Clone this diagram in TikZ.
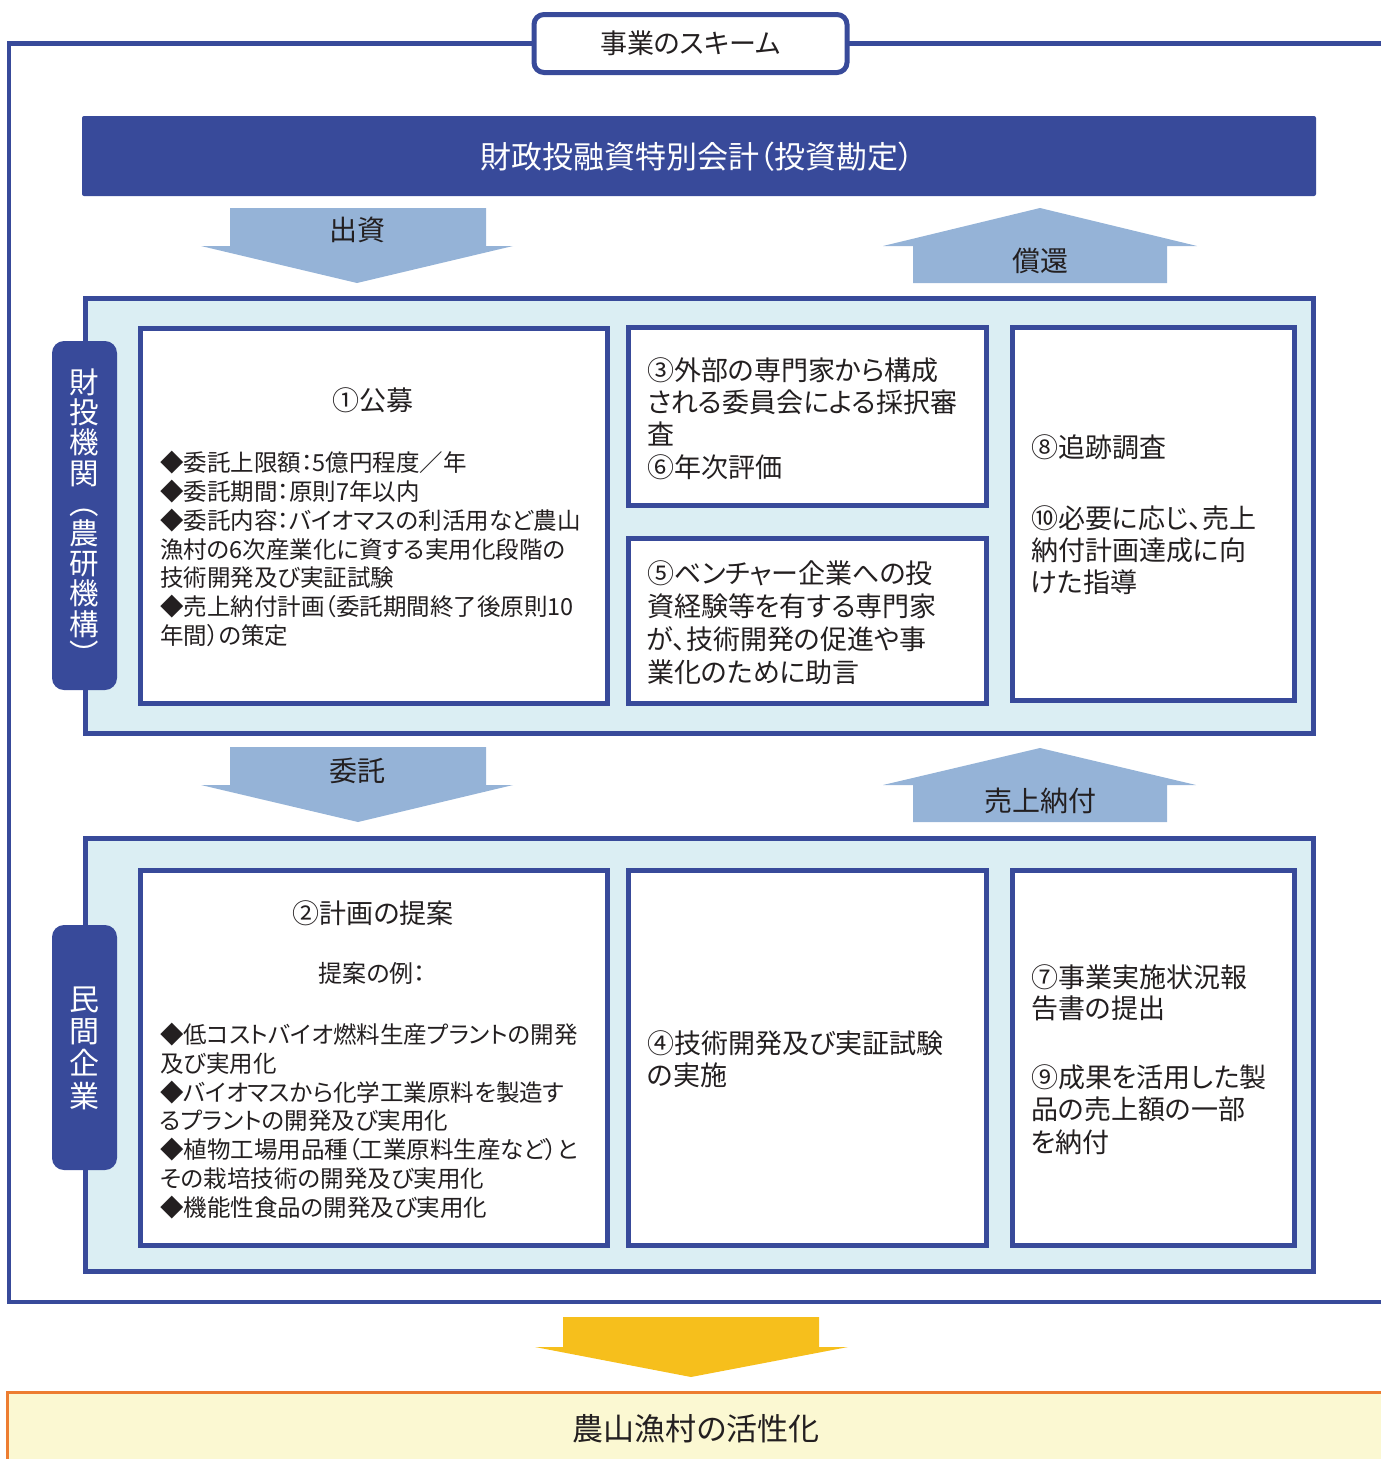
\documentclass[tikz,border=0pt]{standalone}
\usepackage{fontspec}
\newfontfamily\jp[RawFeature=+palt]{Noto Sans CJK JP}
\definecolor{navy}{RGB}{56,74,154}
\definecolor{arrowblue}{RGB}{149,179,215}
\definecolor{panelfill}{RGB}{219,238,243}
\definecolor{gold}{RGB}{246,191,28}
\definecolor{cream}{RGB}{251,248,210}
\definecolor{orangeline}{RGB}{237,125,49}
\definecolor{ink}{RGB}{35,31,32}
\tikzset{
  frameline/.style={draw=navy, line width=4.5pt},
  panel/.style={draw=navy, fill=panelfill, line width=5pt},
  whitebox/.style={draw=navy, fill=white, line width=5pt},
  titlebox/.style={draw=navy, fill=white, line width=5pt, rounded corners=10pt},
  sidetag/.style={fill=navy, rounded corners=12pt},
  blockarrow/.style={fill=arrowblue},
  txt/.style={inner sep=0pt, outer sep=0pt, text=ink},
  lefttxt/.style={txt, anchor=west, align=left},
  arrowlabel/.style={txt, font=\jp\fontsize{28}{30}\selectfont},
  sidelabel/.style={inner sep=0pt, text=white, align=center},
}
\begin{document}
\begin{tikzpicture}[x=1pt,y=-1pt]
\useasboundingbox (0,0) rectangle (1381,1459);

% outer frame
\draw[frameline] (534,43.5) -- (9,43.5) -- (9,1302) -- (1395,1302);
\draw[frameline] (847,43.5) -- (1395,43.5);

% title
\draw[titlebox] (534,14.5) rectangle (847,72.5);
\node[txt, font=\jp\fontsize{27}{30}\selectfont] (scheme) at (690.5,43.5) {事業のスキーム};

% top bar
\fill[navy, rounded corners=2pt] (82,116) rectangle (1316,196);
\node[inner sep=0pt, text=white, font=\jp\fontsize{31}{34}\selectfont] (fund) at (697,157) {財政投融資特別会計（投資勘定）};

% arrows between bar and panel 1
\fill[blockarrow] (230,208) -- (486,208) -- (486,246) -- (513,246) -- (357,283) -- (201,246) -- (230,246) -- cycle;
\node[arrowlabel] (shusshi) at (357,230) {出資};
\fill[blockarrow] (1040,208) -- (1197,246) -- (1167,246) -- (1167,283) -- (913,283) -- (913,246) -- (883,246) -- cycle;
\node[arrowlabel] (shokan) at (1040,261) {償還};

% panel 1
\draw[panel] (85,298) rectangle (1313,733);
\fill[sidetag] (52,341) rectangle (117,690);
\node[sidelabel, font=\jp\fontsize{29.5}{30.2}\selectfont] (naro) at (84.5,517) {財\\投\\機\\関\\︵\\農\\研\\機\\構\\︶};

\draw[whitebox] (140,328) rectangle (607,703);
\draw[whitebox] (628,327) rectangle (986,505.5);
\draw[whitebox] (628,538.5) rectangle (986,703);
\draw[whitebox] (1012,327) rectangle (1294,700.5);

\node[txt, font=\jp\fontsize{27}{30}\selectfont] (koubo) at (373,400) {①公募};
\node[lefttxt, font=\jp\fontsize{23.5}{28.7}\selectfont] (koubotxt) at (160,549) {◆委託上限額：5億円程度／年\\◆委託期間：原則7年以内\\◆委託内容：バイオマスの利活用など農山\\漁村の6次産業化に資する実用化段階の\\技術開発及び実証試験\\◆売上納付計画（委託期間終了後原則10\\年間）の策定};

\node[lefttxt, font=\jp\fontsize{27}{32.3}\selectfont] (shinsa) at (647,418.5) {③外部の専門家から構成\\される委員会による採択審\\査\\⑥年次評価};
\node[lefttxt, font=\jp\fontsize{27}{33}\selectfont] (jogen) at (647,622.5) {⑤ベンチャー企業への投\\資経験等を有する専門家\\が、技術開発の促進や事\\業化のために助言};
\node[lefttxt, font=\jp\fontsize{27}{32}\selectfont] (tsuiseki) at (1031,447) {⑧追跡調査};
\node[lefttxt, font=\jp\fontsize{27}{32}\selectfont] (shido) at (1031,550) {⑩必要に応じ、売上\\納付計画達成に向\\けた指導};

% arrows between panels
\fill[blockarrow] (230,747) -- (486,747) -- (486,785) -- (513,785) -- (358,822) -- (201,785) -- (230,785) -- cycle;
\node[arrowlabel] (itaku) at (357,771) {委託};
\fill[blockarrow] (1040,748) -- (1196,785) -- (1167,785) -- (1167,822) -- (913,822) -- (913,785) -- (883,785) -- cycle;
\node[arrowlabel] (nofu) at (1040,801) {売上納付};

% panel 2
\draw[panel] (85,838) rectangle (1313,1271.5);
\fill[sidetag] (52,925) rectangle (117,1170);
\node[sidelabel, font=\jp\fontsize{30}{32.3}\selectfont] (minkan) at (84.5,1048) {民\\間\\企\\業};

\draw[whitebox] (140,870) rectangle (607,1245);
\draw[whitebox] (628,870) rectangle (986,1245);
\draw[whitebox] (1012,870) rectangle (1294,1245);

\node[txt, font=\jp\fontsize{27}{30}\selectfont] (teian) at (373,913) {②計画の提案};
\node[txt, font=\jp\fontsize{24}{28}\selectfont] (teianrei) at (372,973) {提案の例：};
\node[lefttxt, font=\jp\fontsize{23.5}{28.7}\selectfont] (teiantxt) at (160,1121) {◆低コストバイオ燃料生産プラントの開発\\及び実用化\\◆バイオマスから化学工業原料を製造す\\るプラントの開発及び実用化\\◆植物工場用品種（工業原料生産など）と\\その栽培技術の開発及び実用化\\◆機能性食品の開発及び実用化};

\node[lefttxt, font=\jp\fontsize{27}{32}\selectfont] (jisshi) at (647,1059) {④技術開発及び実証試験\\の実施};
\node[lefttxt, font=\jp\fontsize{27}{31}\selectfont] (houkoku) at (1031,992.5) {⑦事業実施状況報\\告書の提出};
\node[lefttxt, font=\jp\fontsize{27}{32.5}\selectfont] (seika) at (1031,1109.5) {⑨成果を活用した製\\品の売上額の一部\\を納付};

% result arrow and box
\fill[gold] (563,1317) -- (819,1317) -- (819,1347) -- (848,1347) -- (691,1377) -- (535,1347) -- (563,1347) -- cycle;
\draw[draw=orangeline, fill=cream, line width=3pt] (7,1392) rectangle (1395,1475);
\node[txt, font=\jp\fontsize{31}{34}\selectfont] (kasseika) at (696,1429) {農山漁村の活性化};
\end{tikzpicture}
\end{document}
